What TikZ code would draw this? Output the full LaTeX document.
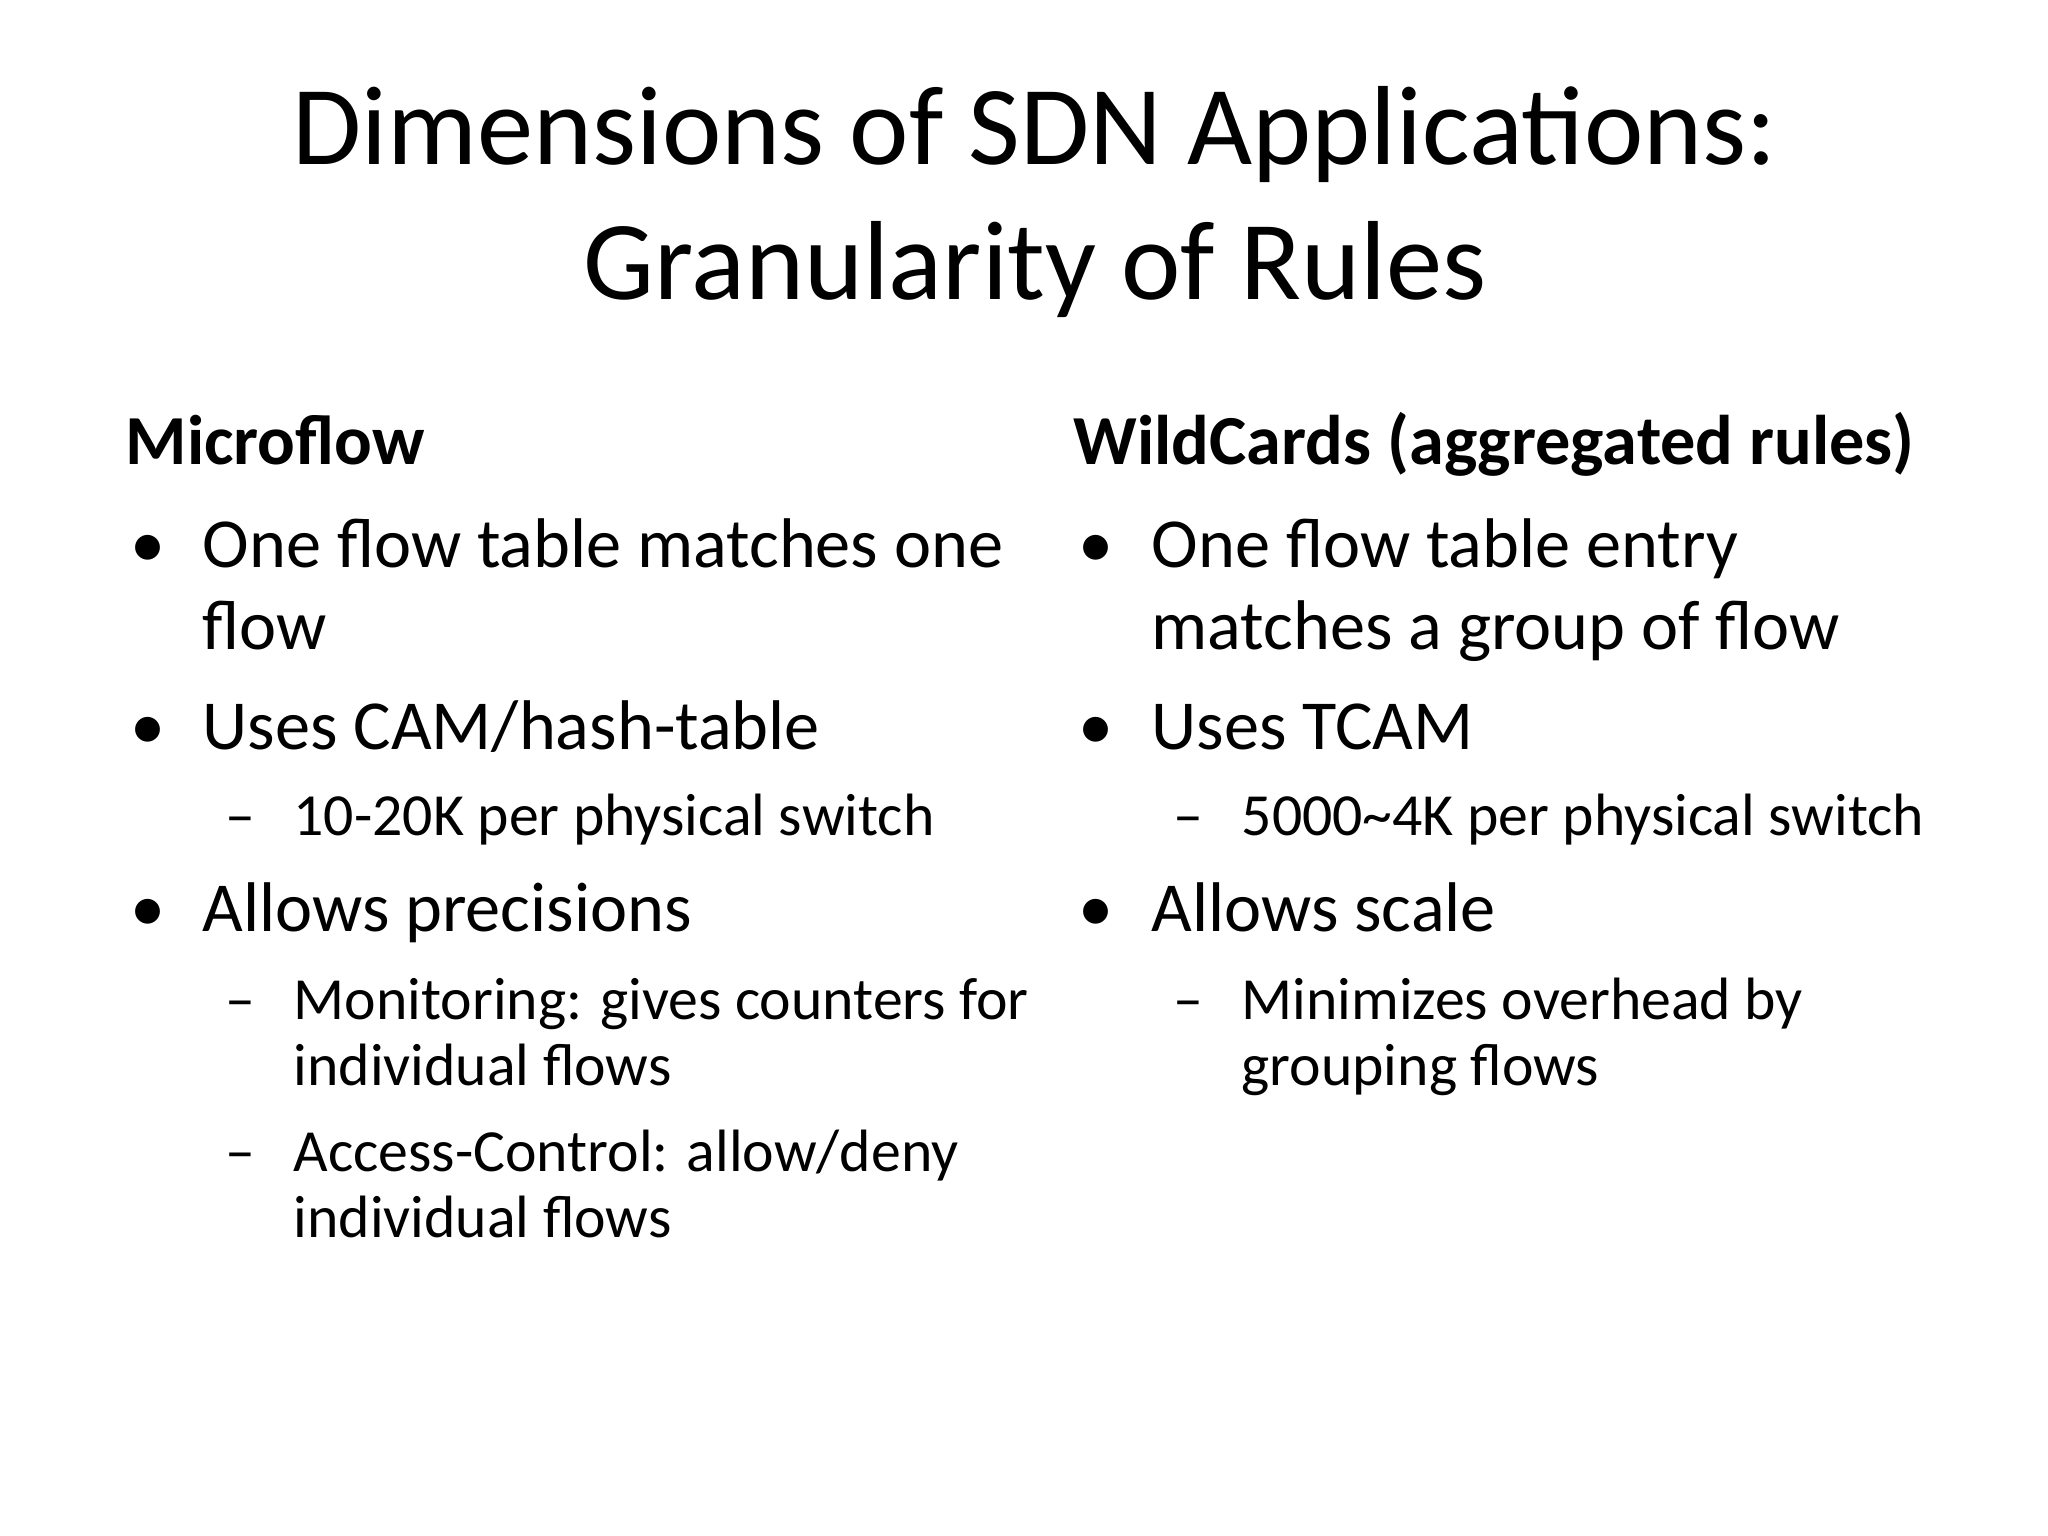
\documentclass[tikz,border=0pt]{standalone}
\usepackage{fontspec}
\setmainfont{Carlito}
\begin{document}
\begin{tikzpicture}[x=1cm,y=1cm,
  every node/.style={inner sep=0pt,anchor=base west},
  ttl/.style={anchor=base,font=\fontsize{32}{38}\selectfont},
  hd/.style={font=\bfseries\fontsize{20}{24}\selectfont},
  bt/.style={font=\fontsize{20}{24}\selectfont},
  st/.style={font=\fontsize{17}{20}\selectfont}]
\useasboundingbox (0,0) rectangle (20.48,-15.36);
\node[ttl] (t1) at (10.35,-1.65) {Dimensions of SDN Applications:};
\node[ttl] (t2) at (10.35,-3.00) {Granularity of Rules};
% left
\node[hd] (h1) at (1.25,-4.65) {Microflow};
\node[bt] (b1) at (1.30,-5.68) {•};
\node[bt] (l1) at (2.02,-5.68) {One flow table matches one};
\node[bt] (l1b) at (2.02,-6.50) {flow};
\node[bt] (b2) at (1.30,-7.50) {•};
\node[bt] (l2) at (2.02,-7.50) {Uses CAM/hash-table};
\node[st] (d1) at (2.25,-8.36) {–};
\node[st] (s1) at (2.93,-8.36) {10-20K per physical switch};
\node[bt] (b3) at (1.30,-9.32) {•};
\node[bt] (l3) at (2.02,-9.32) {Allows precisions};
\node[st] (d2) at (2.25,-10.19) {–};
\node[st] (s2) at (2.93,-10.19) {Monitoring: gives counters for};
\node[st] (s2b) at (2.93,-10.85) {individual flows};
\node[st] (d3) at (2.25,-11.71) {–};
\node[st] (s3) at (2.93,-11.71) {Access-Control: allow/deny};
\node[st] (s3b) at (2.93,-12.37) {individual flows};
% right
\node[hd] (h2) at (10.73,-4.65) {WildCards (aggregated rules)};
\node[bt] (r1) at (10.78,-5.68) {•};
\node[bt] (m1) at (11.51,-5.68) {One flow table entry};
\node[bt] (m1b) at (11.51,-6.50) {matches a group of flow};
\node[bt] (r2) at (10.78,-7.50) {•};
\node[bt] (m2) at (11.51,-7.50) {Uses TCAM};
\node[st] (e1) at (11.73,-8.36) {–};
\node[st] (n1) at (12.41,-8.36) {5000\textasciitilde4K per physical switch};
\node[bt] (r3) at (10.78,-9.32) {•};
\node[bt] (m3) at (11.51,-9.32) {Allows scale};
\node[st] (e2) at (11.73,-10.19) {–};
\node[st] (n2) at (12.41,-10.19) {Minimizes overhead by};
\node[st] (n2b) at (12.41,-10.85) {grouping flows};
\end{tikzpicture}
\end{document}
